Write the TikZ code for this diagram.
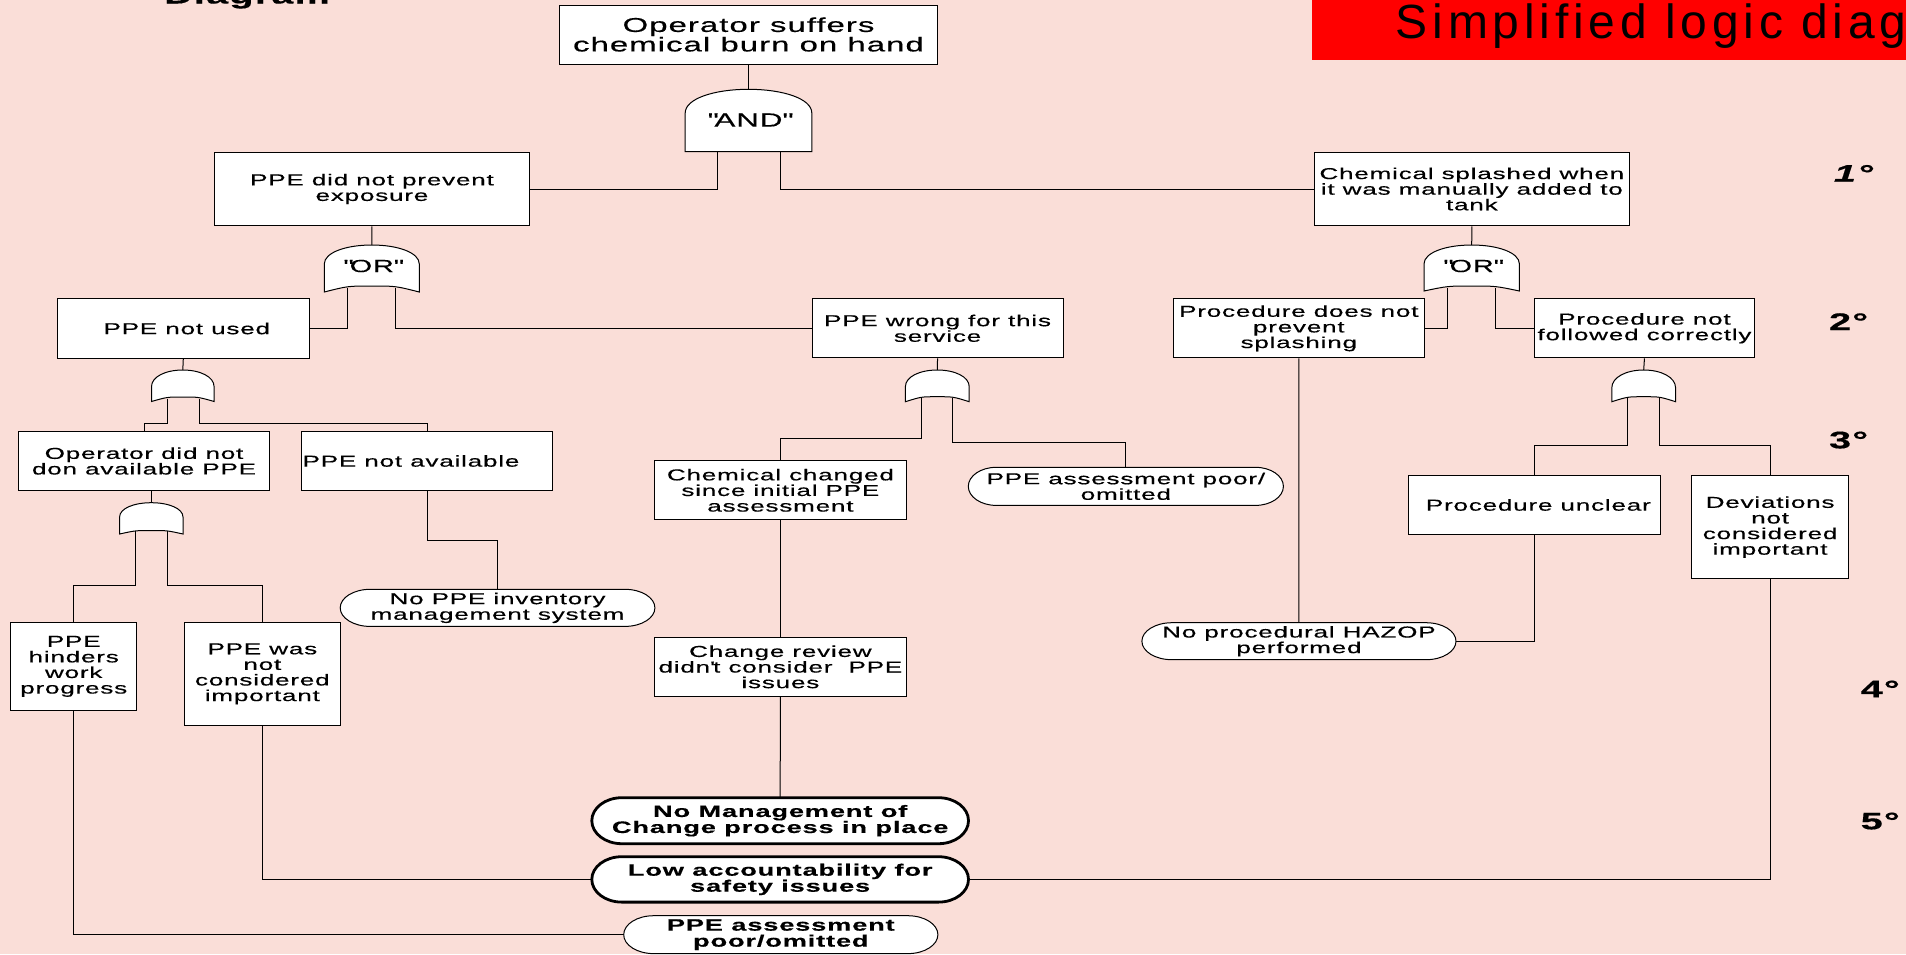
\documentclass[tikz,border=0pt]{standalone}
\usepackage{fontspec}
\usetikzlibrary{calc}

% wide, lightly tracked sans used for all labels of the tree
\newfontfamily\bodyfont[FakeStretch=1.65,LetterSpace=5,FakeBold=0.4]{Liberation Sans}
\newfontfamily\titlefont[LetterSpace=10]{Liberation Sans}

\definecolor{bgpink}{RGB}{250,222,216}
\definecolor{bannerred}{RGB}{255,0,0}

\newcommand\fsBody{\bodyfont\fontsize{15.8}{15.6}\selectfont}
\newcommand\fsTop{\bodyfont\fontsize{20}{19.5}\selectfont}
\newcommand\fsBold{\bodyfont\bfseries\fontsize{16.5}{16}\selectfont}
\newcommand\fsGateA{\bodyfont\fontsize{19}{19}\selectfont}
\newcommand\fsGateO{\bodyfont\fontsize{17.5}{17.5}\selectfont}
\newcommand\fsDeg{\bodyfont\bfseries\fontsize{24}{24}\selectfont}
\newcommand\fsDegI{\bodyfont\bfseries\itshape\fontsize{24}{24}\selectfont}

% straight quote marks, set as glyphs so no font mapping can curl them
\newcommand\dq{\XeTeXglyph\XeTeXcharglyph"22\relax}
\newcommand\ap{\XeTeXglyph\XeTeXcharglyph"27\relax}

\pgfdeclarelayer{paperlayer}
\pgfdeclarelayer{wires}
\pgfdeclarelayer{plates}
\pgfsetlayers{paperlayer,wires,plates,main}

\tikzset{
  wire/.style={draw=black,line width=1pt},
  plate/.style={draw=black,line width=1pt,fill=white},
  thickplate/.style={draw=black,line width=2.8pt,fill=white},
  boxnode/.style={draw=black,line width=1pt,fill=white,inner sep=0pt,
                  align=center,anchor=north west,font=\fsBody},
  tagnode/.style={inner sep=0pt,align=center,anchor=north west,font=\fsBody},
  sz/.style 2 args={minimum width=#1pt,minimum height=#2pt},
  gatetext/.style={inner sep=0pt},
  degree/.style={inner sep=0pt,anchor=base west,font=\fsDeg},
}

% logic gate: centre x, top y, half width, y where the dome meets the sides,
% y of the bottom corners, y of the bottom middle
\newcommand\fgate[6]{%
  \draw[plate] ({#1-#3},#5) -- ({#1-#3},#4)
    .. controls ({#1-#3},{#4-0.6*(#4-#2)}) and ({#1-0.55*#3},#2) .. (#1,#2)
    .. controls ({#1+0.55*#3},#2) and ({#1+#3},{#4-0.6*(#4-#2)}) .. ({#1+#3},#4)
    -- ({#1+#3},#5)
    .. controls ({#1+0.5*#3},#6) .. (#1,#6)
    .. controls ({#1-0.5*#3},#6) .. ({#1-#3},#5) -- cycle;}

% outline with elliptic ends around a named node
\newcommand\stadium[3][plate]{%
  \draw[#1] let \p1=(#2.north west), \p2=(#2.south east),
    \n1={(\y1-\y2)/2} in
    (\x1+#3pt,\y1) -- (\x2-#3pt,\y1)
    arc[start angle=90,end angle=-90,x radius=#3pt,y radius=\n1]
    -- (\x1+#3pt,\y2)
    arc[start angle=270,end angle=90,x radius=#3pt,y radius=\n1] -- cycle;}

\begin{document}
\begin{tikzpicture}[x=1pt,y=-1pt]
\useasboundingbox (0,0) rectangle (1906,954);
\begin{pgfonlayer}{paperlayer}
  \fill[bgpink] (0,0) rectangle (1906,954);
\end{pgfonlayer}

% heading pieces
\node[anchor=base west,inner sep=0pt,font=\bodyfont\bfseries\fontsize{24}{24}\selectfont]
  (diagword) at (164,3.5) {Diagram};
\node[fill=bannerred,inner sep=0pt,anchor=north west,sz={594.2}{60}] (banner) at (1311.8,0) {};
\node[anchor=base west,inner sep=0pt,font=\titlefont\fontsize{48}{48}\selectfont]
  (title) at (1395.6,38) {Simplified logic diagram};

% level marks
\node[degree,font=\fsDegI] (d1) at (1833.7,181.7) {1°};
\node[degree] (d2) at (1828.9,330) {2°};
\node[degree] (d3) at (1828.9,448.3) {3°};
\node[degree] (d4) at (1860.5,697.3) {4°};
\node[degree] (d5) at (1860.5,829.3) {5°};

% events
\node[boxnode,font=\fsTop,sz={378}{59}] (A) at (559,4.5) {Operator suffers\\chemical burn on hand};
\node[boxnode,sz={314.3}{73.6}] (C) at (214.3,151.7) {PPE did not prevent\\exposure};
\node[boxnode,sz={314.7}{73.6}] (D) at (1314,151.7) {Chemical splashed when\\it was manually added to\\tank};
\node[boxnode,sz={251.4}{59.4}] (F) at (57.1,298.3) {\hspace*{7pt}PPE not used};
\node[boxnode,sz={250.9}{59}] (G) at (811.6,298.3) {PPE wrong for this\\service};
\node[boxnode,sz={251.2}{59}] (W) at (1172.7,298.3) {Procedure does not\\prevent\\splashing};
\node[boxnode,sz={220.3}{59}] (X) at (1533.8,298.3) {Procedure not\\followed correctly};
\node[boxnode,sz={251.3}{59}] (I) at (17.9,431) {Operator did not\\don available PPE};
\node[boxnode,sz={251.3}{59}] (J) at (300.9,431) {\makebox[249pt][l]{PPE not available}};
\node[boxnode,sz={251.8}{59}] (O) at (654,460.3) {Chemical changed\\since initial PPE\\assessment};
\node[boxnode,sz={251.6}{59}] (Z) at (1408,475) {\hspace*{8pt}Procedure unclear};
\node[boxnode,sz={157.2}{103.3}] (AA) at (1691,475) {Deviations\\not\\considered\\important};
\node[boxnode,sz={125.9}{88.3}] (M) at (10.3,621.7) {PPE\\hinders\\work\\progress};
\node[boxnode,sz={156.7}{103.3}] (N) at (183.5,621.7) {PPE was\\not\\considered\\important};
\node[boxnode,sz={251.8}{58.7}] (R) at (654,637) {Change review\\didn\ap t consider\ \ PPE\\issues};

% basic causes with rounded ends
\node[tagnode,sz={314.7}{37.7}] (Q) at (968.3,467.3) {PPE assessment poor/\\omitted};
\node[tagnode,sz={314.3}{36.7}] (K) at (340.2,589.3) {No PPE inventory\\management system};
\node[tagnode,sz={313.7}{36.6}] (AB) at (1141.9,622.7) {No procedural HAZOP\\performed};
\node[tagnode,font=\fsBold,sz={376.3}{45.6}] (S) at (591.8,797.7) {No Management of\\Change process in place};
\node[tagnode,font=\fsBold,sz={376.3}{45}] (T) at (591.8,856.7) {Low accountability for\\safety issues};
\node[tagnode,font=\fsBold,sz={313.8}{37.5}] (U) at (623.7,915.7) {PPE assessment\\poor/omitted};

\begin{pgfonlayer}{plates}
  \stadium{Q}{28}
  \stadium{K}{30}
  \stadium{AB}{30}
  \stadium[thickplate]{S}{30}
  \stadium[thickplate]{T}{30}
  \stadium{U}{30}

  \fgate{748.5}{89.3}{63.3}{113}{151.7}{151.7}
  \fgate{371.8}{245}{47.5}{264}{292}{286}
  \fgate{1471.7}{245}{47.7}{264}{291}{286}
  \fgate{182.8}{370}{31.3}{386.7}{401.5}{397}
  \fgate{151.3}{502.7}{31.7}{517}{534}{530.5}
  \fgate{937.3}{370}{31.9}{386.7}{401.7}{396.7}
  \fgate{1643.7}{370}{31.9}{388}{401.7}{396.7}
\end{pgfonlayer}

% gate labels
\node[gatetext,font=\fsGateA] (andlbl) at (748.5,120) {\dq AND\dq};
\node[gatetext,font=\fsGateO] (orlblL) at (371.8,266) {\dq OR\dq};
\node[gatetext,font=\fsGateO] (orlblR) at (1471.7,266) {\dq OR\dq};

% gate inputs and outputs
\coordinate (g1) at (748.5,89.3);  \coordinate (g1a) at (717.4,150);  \coordinate (g1b) at (780,150);
\coordinate (g2) at (371.8,245);   \coordinate (g2a) at (347.7,288);  \coordinate (g2b) at (395,288);
\coordinate (g3) at (1471.7,245);  \coordinate (g3a) at (1447.4,288); \coordinate (g3b) at (1495.2,288);
\coordinate (g4) at (182.8,370);   \coordinate (g4a) at (167,399);    \coordinate (g4b) at (199,399);
\coordinate (g5) at (151.3,502.7); \coordinate (g5a) at (135.7,531);  \coordinate (g5b) at (167.4,531);
\coordinate (g6) at (937.3,370);   \coordinate (g6a) at (921.4,398);  \coordinate (g6b) at (952.7,398);
\coordinate (g7) at (1643.7,370);  \coordinate (g7a) at (1627.8,398); \coordinate (g7b) at (1659.6,398);

\begin{pgfonlayer}{wires}
  \draw[wire] (A.south) -- (g1);
  \draw[wire] (g1a) |- (C.east);
  \draw[wire] (g1b) |- (D.west);

  \draw[wire] (C.south) -- (g2);
  \draw[wire] (g2a) |- (F.east);
  \draw[wire] (g2b) |- (G.west);

  \draw[wire] (D.south) -- (g3);
  \draw[wire] (g3a) |- (W.east);
  \draw[wire] (g3b) |- (X.west);

  \draw[wire] (F.south) -- (g4);
  \draw[wire] (g4a) -- ++(0,24.3) -| (I.north);
  \draw[wire] (g4b) -- ++(0,24.3) -| (J.north);

  \draw[wire] (g5 |- I.south) -- (g5);
  \draw[wire] (g5a) -- ++(0,54) -| (M.north);
  \draw[wire] (g5b) -- ++(0,54) -| (N.north);

  \draw[wire] (J.south) -- ++(0,49.3) -| (K.north);

  \draw[wire] (G.south) -- (g6);
  \draw[wire] (g6a) -- ++(0,40.3) -| (O.north);
  \draw[wire] (g6b) -- ++(0,44) -| (Q.north);
  \draw[wire] (O.south) -- (R.north);
  \draw[wire] (R.south) -- (S.north);

  \draw[wire] (M.south) |- (U.west);
  \draw[wire] (N.south) |- (T.west);
  \draw[wire] (AA.south) |- (T.east);

  \draw[wire] (W.south) -- (AB.north);
  \draw[wire] (X.south) -- (g7);
  \draw[wire] (g7a) -- ++(0,47) -| (Z.north);
  \draw[wire] (g7b) -- ++(0,47) -| (AA.north);
  \draw[wire] (Z.south) |- (AB.east);
\end{pgfonlayer}
\end{tikzpicture}
\end{document}
